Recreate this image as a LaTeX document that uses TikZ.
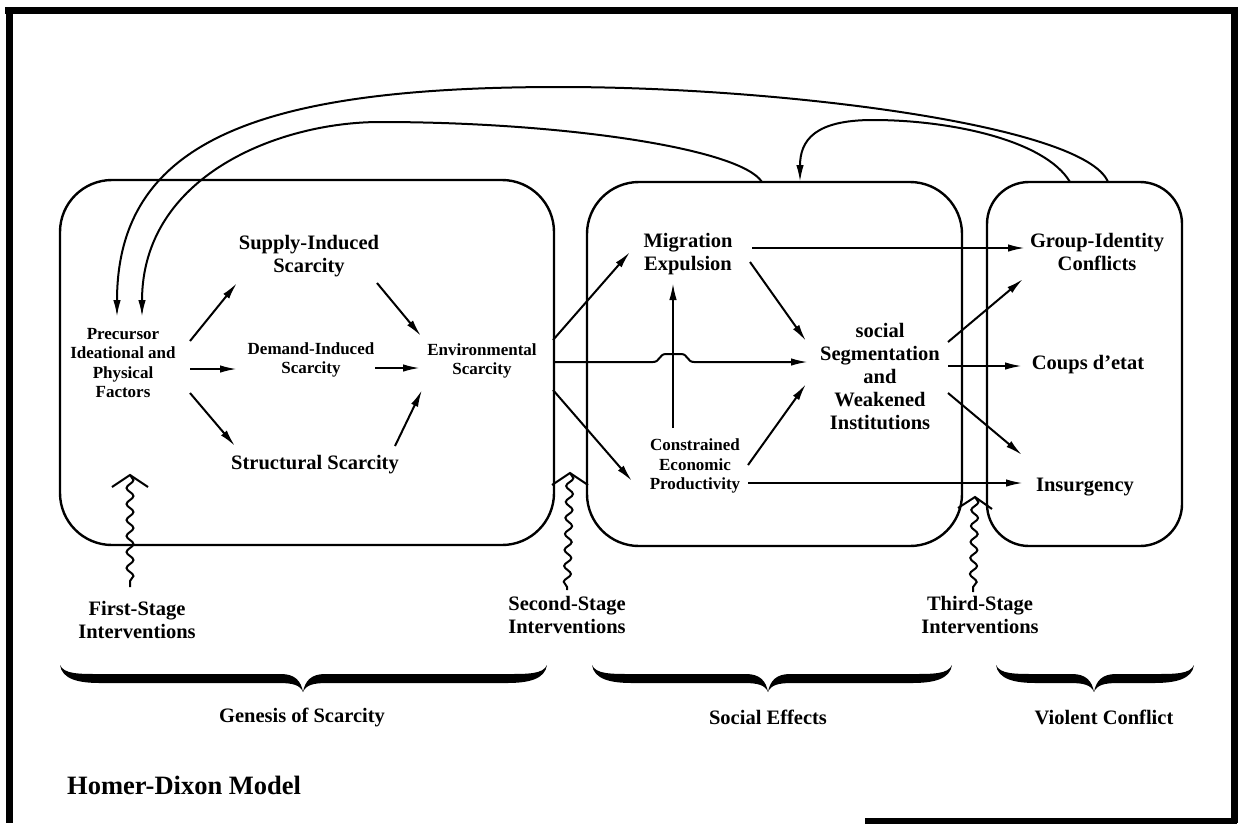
\documentclass[tikz,border=0pt]{standalone}
\usepackage{fontspec}
\setmainfont{Liberation Serif}
\usetikzlibrary{arrows.meta,decorations.pathmorphing}
\newcommand\hdbrace[4]{%
  \fill (#1,{#4-12}) .. controls ({#1+4},{#4-3}) and ({#1+18},{#4-3}) .. ({#1+40},{#4-3})
   -- ({#2-22},{#4-3}) .. controls ({#2-8},{#4-3}) and ({#2-2},{#4+4}) .. (#2,{#4+15})
   .. controls ({#2+2},{#4+4}) and ({#2+8},{#4-3}) .. ({#2+22},{#4-3})
   -- ({#3-40},{#4-3}) .. controls ({#3-18},{#4-3}) and ({#3-4},{#4-3}) .. (#3,{#4-12})
   .. controls ({#3-2},{#4+2}) and ({#3-18},{#4+6}) .. ({#3-40},{#4+6})
   -- ({#2+24},{#4+6}) .. controls ({#2+10},{#4+6}) and ({#2+3},{#4+8}) .. (#2,{#4+15})
   .. controls ({#2-3},{#4+8}) and ({#2-10},{#4+6}) .. ({#2-24},{#4+6})
   -- ({#1+40},{#4+6}) .. controls ({#1+18},{#4+6}) and ({#1+2},{#4+2}) .. (#1,{#4-12}) -- cycle;}
\tikzset{
  stagebox/.style={line width=2.4pt, rounded corners=52pt},
  lbl/.style={font=\bfseries\fontsize{20.5}{23}\selectfont, align=center, inner sep=0pt},
  slbl/.style={font=\bfseries\fontsize{17}{19.5}\selectfont, align=center, inner sep=0pt},
  arr/.style={line width=2pt, -{Latex[length=17pt,width=7.5pt]}},
  wavy/.style={line width=2pt, decorate, decoration={snake, amplitude=3.5pt, segment length=16pt}},
  chev/.style={line width=2pt, line join=miter},
  frame/.style={line width=7pt},
}
\begin{document}
\begin{tikzpicture}[x=1pt,y=-1pt]
\useasboundingbox (0,0) rectangle (1241,823);
% frame
\draw[frame] (5,10) -- (1237,10);
\draw[frame] (9,7) -- (9,823);
\draw[frame] (1234,7) -- (1234,823);
\draw[frame] (865,821) -- (1237,821);
% stage boxes
\draw[stagebox] (60,180) rectangle (554,545);
\draw[stagebox] (587,182) rectangle (962,546);
\draw[stagebox, rounded corners=42pt] (987,182) rectangle (1182,546);
% labels
\node[slbl] (pre) at (123,363) {Precursor\\Ideational and\\Physical\\Factors};
\node[lbl] (sup) at (309,256) {Supply-Induced\\Scarcity};
\node[slbl] (dem) at (311,360) {Demand-Induced\\Scarcity};
\node[lbl] (str) at (315,465) {Structural Scarcity};
\node[slbl] (env) at (482,361) {Environmental\\Scarcity};
\node[lbl] (mig) at (688,254) {Migration\\Expulsion};
\node[slbl] (con) at (695,466) {Constrained\\Economic\\Productivity};
\node[lbl] (soc) at (880,377) {social\\Segmentation\\and\\Weakened\\Institutions};
\node[lbl] (grp) at (1097,252) {Group-Identity\\Conflicts};
\node[lbl] (cou) at (1088,365) {Coups d'etat};
\node[lbl] (ins) at (1085,487) {Insurgency};
\node[lbl] (fst) at (137,620) {First-Stage\\Interventions};
\node[lbl] (sst) at (567,615) {Second-Stage\\Interventions};
\node[lbl] (tst) at (980,615) {Third-Stage\\Interventions};
\node[lbl] (gen) at (302,717) {Genesis of Scarcity};
\node[lbl] (sef) at (768,717) {Social Effects};
\node[lbl] (vio) at (1104,717) {Violent Conflict};
\node[font=\bfseries\fontsize{26.5}{30}\selectfont, anchor=west, inner sep=0pt] (title) at (67,785) {Homer-Dixon Model};
% connector end points
\coordinate (p1) at (190,341); \coordinate (s1) at (237,283);
\coordinate (p2) at (190,369); \coordinate (d1) at (237,369);
\coordinate (p3) at (190,393); \coordinate (t1) at (235,446);
\coordinate (s2) at (377,283); \coordinate (e1) at (421,336);
\coordinate (d2) at (375,368); \coordinate (e2) at (420,368);
\coordinate (t2) at (395,446); \coordinate (e3) at (422,390);
\coordinate (b1) at (553,340); \coordinate (m1) at (630,252);
\coordinate (b2) at (553,362); \coordinate (g1) at (808,362);
\coordinate (b3) at (553,390); \coordinate (c1) at (632,481);
\coordinate (c2) at (673,428); \coordinate (m2) at (673,283);
\coordinate (m3) at (750,262); \coordinate (g2) at (806,341);
\coordinate (c3) at (748,465); \coordinate (g3) at (806,384);
\coordinate (m4) at (752,248); \coordinate (q1) at (1025,248);
\coordinate (c4) at (748,483); \coordinate (i1) at (1023,483);
\coordinate (g4) at (948,342); \coordinate (q2) at (1023,279);
\coordinate (g5) at (948,366); \coordinate (k1) at (1022,366);
\coordinate (g6) at (948,393); \coordinate (i2) at (1022,455);
% arrows
\draw[arr] (p1) -- (s1);
\draw[arr] (p2) -- (d1);
\draw[arr] (p3) -- (t1);
\draw[arr] (s2) -- (e1);
\draw[arr] (d2) -- (e2);
\draw[arr] (t2) -- (e3);
\draw[arr] (b1) -- (m1);
\draw[arr] (b2) -- (653,362) .. controls (660,362) and (659,354) .. (666,354) -- (681,354) .. controls (688,354) and (687,362) .. (694,362) -- (g1);
\draw[arr] (b3) -- (c1);
\draw[arr] (c2) -- (m2);
\draw[arr] (m3) -- (g2);
\draw[arr] (c3) -- (g3);
\draw[arr] (m4) -- (q1);
\draw[arr] (c4) -- (i1);
\draw[arr] (g4) -- (q2);
\draw[arr] (g5) -- (k1);
\draw[arr] (g6) -- (i2);
% feedback arcs
\coordinate (fa) at (1108,182); \coordinate (fb) at (117,317);
\coordinate (fc) at (762,182); \coordinate (fd) at (142,317);
\coordinate (fe) at (1070,182); \coordinate (ff) at (800,182);
\draw[arr] (fa) .. controls (1085,125) and (780,87) .. (560,87) .. controls (260,87) and (117,140) .. (fb);
\draw[arr] (fc) .. controls (740,148) and (560,122) .. (380,122) .. controls (280,122) and (142,175) .. (fd);
\draw[arr] (fe) .. controls (1045,140) and (950,120) .. (873,120) .. controls (815,120) and (800,140) .. (ff);
% intervention arrows
\coordinate (w1) at (130,475); \coordinate (w1e) at (130,587);
\coordinate (w2) at (570,473); \coordinate (w2e) at (567,590);
\coordinate (w3) at (975,497); \coordinate (w3e) at (973,592);
\draw[chev] (112,487) -- (w1) -- (148,487);
\draw[wavy] (w1) -- (w1e);
\draw[chev] (552,485) -- (w2) -- (588,485);
\draw[wavy] (w2) -- (w2e);
\draw[chev] (958,508) -- (w3) -- (992,509);
\draw[wavy] (w3) -- (w3e);
% braces
\hdbrace{60}{303}{547}{677}
\hdbrace{592}{768}{952}{677}
\hdbrace{996}{1094}{1194}{677}
\end{tikzpicture}
\end{document}
